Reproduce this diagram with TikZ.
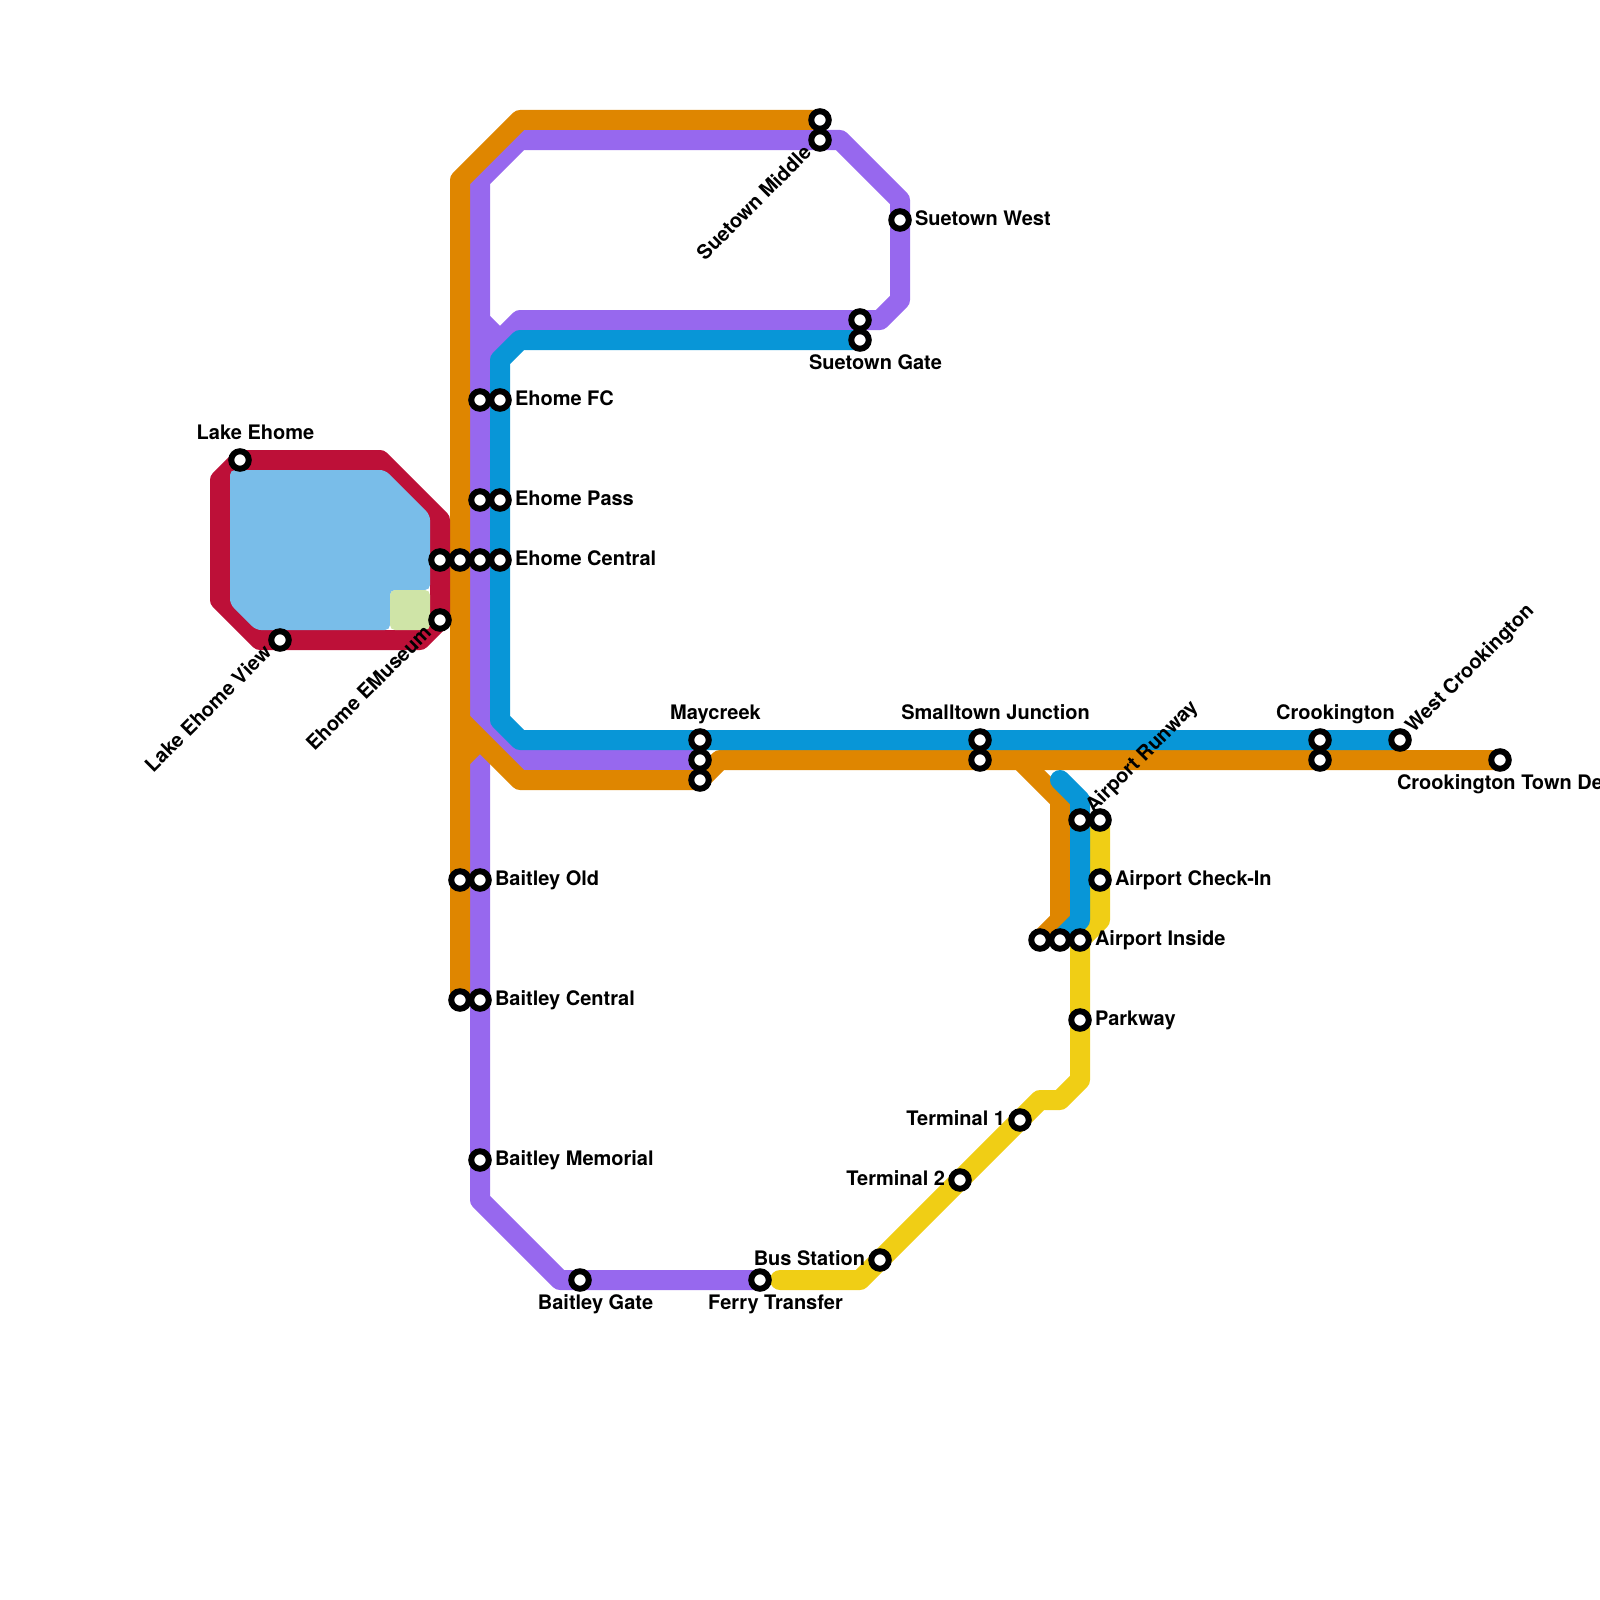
\documentclass[tikz,border=0pt]{standalone}
\usepackage{fontspec}
\setmainfont{TeX Gyre Heros}
\definecolor{cOrange}{HTML}{DF8600}
\definecolor{cPurple}{HTML}{9768EE}
\definecolor{cBlue}{HTML}{0896D7}
\definecolor{cRed}{HTML}{BD1038}
\definecolor{cYellow}{HTML}{F0CE15}
\definecolor{cLake}{HTML}{79BDE9}
\definecolor{cPark}{HTML}{CFE4A7}
\tikzset{
  metro/.style={line width=10pt,line join=round},
  stn/.style={circle,draw=black,fill=white,line width=3pt,minimum size=8.75pt,inner sep=0pt},
  lbl/.style={inner sep=0pt,outer sep=0pt,font=\fontsize{10}{12}\selectfont\bfseries,text=black},
}
\newcommand\lblR[3]{\node[lbl,anchor=base west] (#1) at ([shift={(15,5)}]#2) {#3};}
\newcommand\lblL[3]{\node[lbl,anchor=base east] (#1) at ([shift={(-15,5)}]#2) {#3};}
\newcommand\lblT[3]{\node[lbl,anchor=base] (#1) at ([shift={(15.5,-20.3)}]#2) {#3};}
\newcommand\lblB[3]{\node[lbl,anchor=base] (#1) at ([shift={(15.5,29.8)}]#2) {#3};}
\newcommand\lblUR[3]{\node[lbl,anchor=base west,rotate=45] (#1) at ([shift={(13.5,-6.5)}]#2) {#3};}
\newcommand\lblDL[3]{\node[lbl,anchor=base east,rotate=45] (#1) at ([shift={(-7.5,14)}]#2) {#3};}
\begin{document}
\begin{tikzpicture}[x=0.5pt,y=-0.5pt]
\useasboundingbox (0,0) rectangle (1600,1600);
% station positions
\foreach \n/\x/\y in {
 lake/240/460, lakeview/280/640, emus/440/620, cenR/440/560, cenO/460/560, cenP/480/560, cenB/500/560,
 fcP/480/400, fcB/500/400, passP/480/500, passB/500/500,
 oldO/460/880, oldP/480/880, bcO/460/1000, bcP/480/1000, mem/480/1160, gate/580/1280, ferry/760/1280,
 midO/820/120, midP/820/140, west/900/220, sgP/860/320, sgB/860/340,
 mayB/700/740, mayP/700/760, mayO/700/780, smB/980/740, smO/980/760,
 crB/1320/740, crO/1320/760, wcr/1400/740, town/1500/760,
 rwB/1080/820, rwY/1100/820, chk/1100/880, inO/1040/940, inB/1060/940, inY/1080/940,
 park/1080/1020, t1/1020/1120, t2/960/1180, bus/880/1260}
 {\coordinate (\n) at (\x,\y);}
% purple
\draw[metro,cPurple] (ferry) -- (560,1280) -- (480,1200) -- (480,750);
\draw[metro,cPurple] (mayP) -- (520,760) -- (480,720) -- (480,180) -- (520,140) -- (840,140) -- (900,200) -- (900,300) -- (880,320) -- (520,320) -- (480,360);
\draw[metro,cPurple] (480,320) -- (500,340);
% yellow
\draw[metro,cYellow,line cap=round] (rwY) -- (1100,920) -- (1080,940) -- (1080,1080) -- (1060,1100) -- (1040,1100) -- (860,1280) -- (780,1280);
% orange
\draw[metro,cOrange] (midO) -- (520,120) -- (460,180) -- (bcO);
\draw[metro,cOrange] (mayO) -- (520,780) -- (460,720);
\draw[metro,cOrange] (460,760) -- (480,740);
\draw[metro,cOrange] (mayO) -- (720,760) -- (town);
\draw[metro,cOrange] (1020,760) -- (1060,800) -- (1060,920) -- (inO);
% blue
\draw[metro,cBlue] (wcr) -- (520,740) -- (500,720) -- (500,360) -- (520,340) -- (sgB);
\draw[metro,cBlue,line cap=round] (1060,780) -- (1080,800) -- (1080,920) -- (inB);
% red
\draw[metro,cRed] (240,460) -- (380,460) -- (440,520) -- (440,620) -- (420,640) -- (260,640) -- (220,600) -- (220,480) -- cycle;
% lake and park lie over the red ring's inner edge
\fill[cLake,rounded corners=2.5pt] (230,470) -- (385,470) -- (430,515) -- (430,590) -- (390,590) -- (390,630) -- (256,630) -- (230,604) -- cycle;
\fill[cPark,rounded corners=2.5pt] (390,590) rectangle (430,630);
% stations
\foreach \n in {lake,lakeview,emus,cenR,cenO,cenP,cenB,fcP,fcB,passP,passB,oldO,oldP,bcO,bcP,mem,gate,ferry,midO,midP,west,sgP,sgB,mayB,mayP,mayO,smB,smO,crB,crO,wcr,town,rwB,rwY,chk,inO,inB,inY,park,t1,t2,bus}
 {\node[stn] (st\n) at (\n) {};}
% labels
\lblT{lLake}{lake}{Lake Ehome}
\lblDL{lView}{lakeview}{Lake Ehome View}
\lblDL{lMus}{emus}{Ehome EMuseum}
\lblR{lFC}{fcB}{Ehome FC}
\lblR{lPass}{passB}{Ehome Pass}
\lblR{lCen}{cenB}{Ehome Central}
\lblR{lOld}{oldP}{Baitley Old}
\lblR{lBC}{bcP}{Baitley Central}
\lblR{lMem}{mem}{Baitley Memorial}
\lblB{lGate}{gate}{Baitley Gate}
\lblB{lFerry}{ferry}{Ferry Transfer}
\lblDL{lMid}{midP}{Suetown Middle}
\lblR{lWest}{west}{Suetown West}
\lblB{lSG}{sgB}{Suetown Gate}
\lblT{lMay}{mayB}{Maycreek}
\lblT{lSm}{smB}{Smalltown Junction}
\lblT{lCr}{crB}{Crookington}
\lblUR{lWC}{wcr}{West Crookington}
\node[lbl,anchor=base west] (lTown) at (1397,789.5) {Crookington Town De};
\lblUR{lRw}{rwB}{Airport Runway}
\lblR{lChk}{chk}{Airport Check-In}
\lblR{lIn}{inY}{Airport Inside}
\lblR{lPark}{park}{Parkway}
\lblL{lT1}{t1}{Terminal 1}
\lblL{lT2}{t2}{Terminal 2}
\lblL{lBus}{bus}{Bus Station}
\end{tikzpicture}
\end{document}
